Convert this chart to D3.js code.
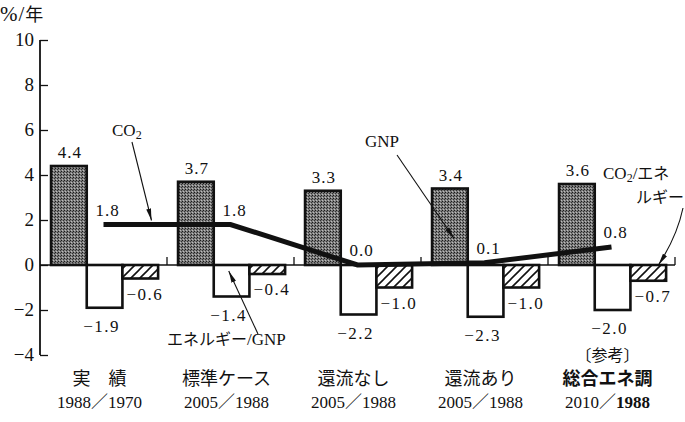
<!DOCTYPE html>
<html><head><meta charset="utf-8">
<script src="https://cdn.jsdelivr.net/npm/d3@7/dist/d3.min.js"></script>
<style>
html,body{margin:0;padding:0;background:#fff;}
svg{display:block;}
.num{font-family:"Liberation Serif","DejaVu Serif",serif;fill:#111;}
.jp{font-family:"Noto Sans CJK JP",sans-serif;fill:#111;}
</style></head>
<body>
<svg id="chart" width="685" height="422" font-size="17"></svg>
<script>
// ---- data ----
const groupNames = ["実　績", "標準ケース", "還流なし", "還流あり", "総合エネ調"];
const groupPeriods = ["1988／1970", "2005／1988", "2005／1988", "2005／1988", "2010／1988"];
const gnp = [4.4, 3.7, 3.3, 3.4, 3.6];
const energyPerGnp = [-1.9, -1.4, -2.2, -2.3, -2.0];
const co2PerEnergy = [-0.6, -0.4, -1.0, -1.0, -0.7];
const co2 = [1.8, 1.8, 0.0, 0.1, 0.8];
const yTicks = [10, 8, 6, 4, 2, 0, -2, -4];
const seriesKeys = ["gnp", "egnp", "co2e"];

const svg = d3.select("#chart");
const fmt = v => (v < 0 ? "−" : "") + Math.abs(v).toFixed(1);

// ---- scales ----
const y = d3.scaleLinear().domain([-4, 10]).range([355, 40]);
const x0 = d3.scaleBand().domain(d3.range(groupNames.length)).range([40, 675]).padding(0);
const bw = x0.bandwidth();
const x1 = d3.scaleBand().domain(seriesKeys).range([bw * 0.087, bw * 0.93]).padding(0);

// ---- patterns / markers ----
const defs = svg.append("defs");
const dots = defs.append("pattern").attr("id", "dots").attr("patternUnits", "userSpaceOnUse")
  .attr("width", 3).attr("height", 3);
dots.append("rect").attr("width", 3).attr("height", 3).attr("fill", "#7c7c7c");
dots.append("rect").attr("x", 0).attr("y", 0).attr("width", 1).attr("height", 1).attr("fill", "#1a1a1a");
dots.append("rect").attr("x", 2).attr("y", 1).attr("width", 1).attr("height", 1).attr("fill", "#333");
dots.append("rect").attr("x", 1).attr("y", 2).attr("width", 1).attr("height", 1).attr("fill", "#bdbdbd");
const hatch = defs.append("pattern").attr("id", "hatch").attr("patternUnits", "userSpaceOnUse")
  .attr("width", 9).attr("height", 9);
hatch.append("rect").attr("width", 9).attr("height", 9).attr("fill", "#fff");
hatch.append("path").attr("d", "M0,9 L9,0 M-2,2 L2,-2 M7,11 L11,7")
  .attr("stroke", "#111").attr("stroke-width", 1.6);
defs.append("marker").attr("id", "arr").attr("viewBox", "0 0 12 6")
  .attr("refX", 12).attr("refY", 3).attr("markerWidth", 12).attr("markerHeight", 6)
  .attr("markerUnits", "userSpaceOnUse").attr("orient", "auto")
  .append("path").attr("d", "M0,0.6 L12,3 L0,5.4 Z").attr("fill", "#111");

// ---- y axis ----
const yAxis = d3.axisRight(y).tickValues(yTicks).tickSize(8).tickFormat("");
const gy = svg.append("g").attr("transform", "translate(40,0)").call(yAxis);
gy.attr("font-size", null).attr("font-family", null);
gy.select(".domain").attr("stroke", "#111").attr("stroke-width", 1.8).attr("d", `M0,${y(10)}V${y(-4)}`);
gy.selectAll(".tick line").attr("stroke", "#111").attr("stroke-width", 1.3);
svg.append("g").selectAll("text").data(yTicks).join("text")
  .attr("class", "num").attr("x", 34).attr("y", d => y(d) + 6)
  .attr("text-anchor", "end").attr("font-size", 19)
  .text(d => d < 0 ? "−" + Math.abs(d) : d);
svg.append("text").attr("x", 0).attr("y", 21).attr("class", "num").attr("font-size", 21)
  .attr("letter-spacing", 1)
  .text("%/").append("tspan").attr("class", "jp").attr("font-size", 18).text("年");

// ---- bars ----
const rows = groupNames.map((g, i) => ({ i, vals: [
  { key: "gnp", v: gnp[i], fill: "url(#dots)" },
  { key: "egnp", v: energyPerGnp[i], fill: "#fff" },
  { key: "co2e", v: co2PerEnergy[i], fill: "url(#hatch)" }] }));
const gG = svg.append("g").selectAll("g").data(rows).join("g")
  .attr("transform", d => `translate(${x0(d.i)},0)`);
gG.selectAll("rect").data(d => d.vals).join("rect")
  .attr("x", d => x1(d.key)).attr("width", x1.bandwidth())
  .attr("y", d => y(Math.max(0, d.v))).attr("height", d => Math.abs(y(d.v) - y(0)))
  .attr("fill", d => d.fill).attr("stroke", "#111").attr("stroke-width", 2.6);

// ---- baseline + group separators ----
svg.append("line").attr("x1", 40).attr("x2", 675).attr("y1", y(0)).attr("y2", y(0))
  .attr("stroke", "#111").attr("stroke-width", 1.6);
svg.append("g").selectAll("line").data(d3.range(1, groupNames.length + 1)).join("line")
  .attr("x1", d => x0.range()[0] + d * bw).attr("x2", d => x0.range()[0] + d * bw)
  .attr("y1", y(0)).attr("y2", y(0) - 8).attr("stroke", "#111").attr("stroke-width", 1.3);

// ---- bar value labels ----
gG.append("text").attr("class", "num").attr("letter-spacing", 1)
  .attr("x", d => x1("gnp") + x1.bandwidth() / 2 + 1).attr("y", d => y(gnp[d.i]) - 8)
  .attr("text-anchor", "middle").text(d => fmt(gnp[d.i]));
gG.append("text").attr("class", "num").attr("letter-spacing", 1.5)
  .attr("x", d => x1("egnp") + x1.bandwidth() / 2 - 3).attr("y", d => y(energyPerGnp[d.i]) + 24)
  .attr("text-anchor", "middle").text(d => fmt(energyPerGnp[d.i]));
gG.append("text").attr("class", "num").attr("letter-spacing", 1.5)
  .attr("x", d => x1("co2e") + 4).attr("y", d => y(co2PerEnergy[d.i]) + 21)
  .attr("text-anchor", "start").text(d => fmt(co2PerEnergy[d.i]));

// ---- CO2 line ----
const cx = i => x0(i) + bw / 2;
const line = d3.line().x((d, i) => cx(i)).y(d => y(d));
svg.append("path").datum(co2).attr("d", line).attr("fill", "none")
  .attr("stroke", "#111").attr("stroke-width", 5);
svg.append("g").selectAll("text").data(co2).join("text").attr("class", "num")
  .attr("letter-spacing", 1).attr("x", (d, i) => cx(i) + 4).attr("y", d => y(d) - 9)
  .attr("text-anchor", "middle").text(d => fmt(d));

// ---- annotations ----
function arrow(x1a, y1a, x2a, y2a, curve) {
  const p = d3.path();
  p.moveTo(x1a, y1a);
  if (curve) p.quadraticCurveTo(x1a - curve, (y1a + y2a) / 2, x2a, y2a); else p.lineTo(x2a, y2a);
  svg.append("path").attr("d", p.toString()).attr("fill", "none").attr("stroke", "#111")
    .attr("stroke-width", 1.1).attr("marker-end", "url(#arr)");
}
// CO2
const co2Lab = svg.append("text").attr("class", "num").attr("x", 112).attr("y", 136).text("CO");
co2Lab.append("tspan").attr("font-size", 12).attr("dy", 3).text("2");
arrow(132, 142, cx(0) + 48, y(co2[0]) - 4);
// GNP
svg.append("text").attr("class", "num").attr("x", 365).attr("y", 147).text("GNP");
arrow(397, 155, x0(3) + x1("gnp") + 22, y(gnp[3]) + 50);
// CO2/energy
const ce = svg.append("text").attr("class", "num").attr("x", 603).attr("y", 179).text("CO");
ce.append("tspan").attr("font-size", 12).attr("dy", 3).text("2");
ce.append("tspan").attr("dy", -3).text("/");
ce.append("tspan").attr("class", "jp").attr("font-size", 16).text("エネ");
svg.append("text").attr("class", "jp").attr("font-size", 16).attr("x", 636).attr("y", 203).text("ルギー");
arrow(683, 208, x0(4) + x1("co2e") + 28, y(0), 6);
// energy/GNP
const eg = svg.append("text").attr("class", "jp").attr("font-size", 16).attr("x", 167).attr("y", 345).text("エネルギー");
eg.append("tspan").attr("class", "num").attr("font-size", 17).text("/GNP");
arrow(258, 334, x0(1) + x1("egnp") + 15, y(0) + 6);

// ---- category labels ----
const cat = svg.append("g").selectAll("g").data(groupNames).join("g")
  .attr("transform", (d, i) => `translate(${cx(i) - 4},0)`);
cat.append("text").attr("class", "jp").attr("font-size", 18).attr("text-anchor", "middle")
  .attr("y", 385).attr("font-weight", (d, i) => i === 4 ? "bold" : "normal").text(d => d);
cat.append("text").attr("class", "num").attr("font-size", 17).attr("text-anchor", "middle")
  .attr("y", 408).each(function (d, i) {
    const [a, b] = groupPeriods[i].split("／");
    const t = d3.select(this);
    t.append("tspan").text(a);
    t.append("tspan").attr("class", "jp").attr("font-size", 17).text("／");
    t.append("tspan").attr("font-weight", i === 4 ? "bold" : "normal").text(b);
  });
svg.append("text").attr("class", "jp").attr("font-size", 16).attr("x", cx(4) - 4)
  .attr("y", 361).attr("text-anchor", "middle").text("〔参考〕");
</script>
</body></html>
